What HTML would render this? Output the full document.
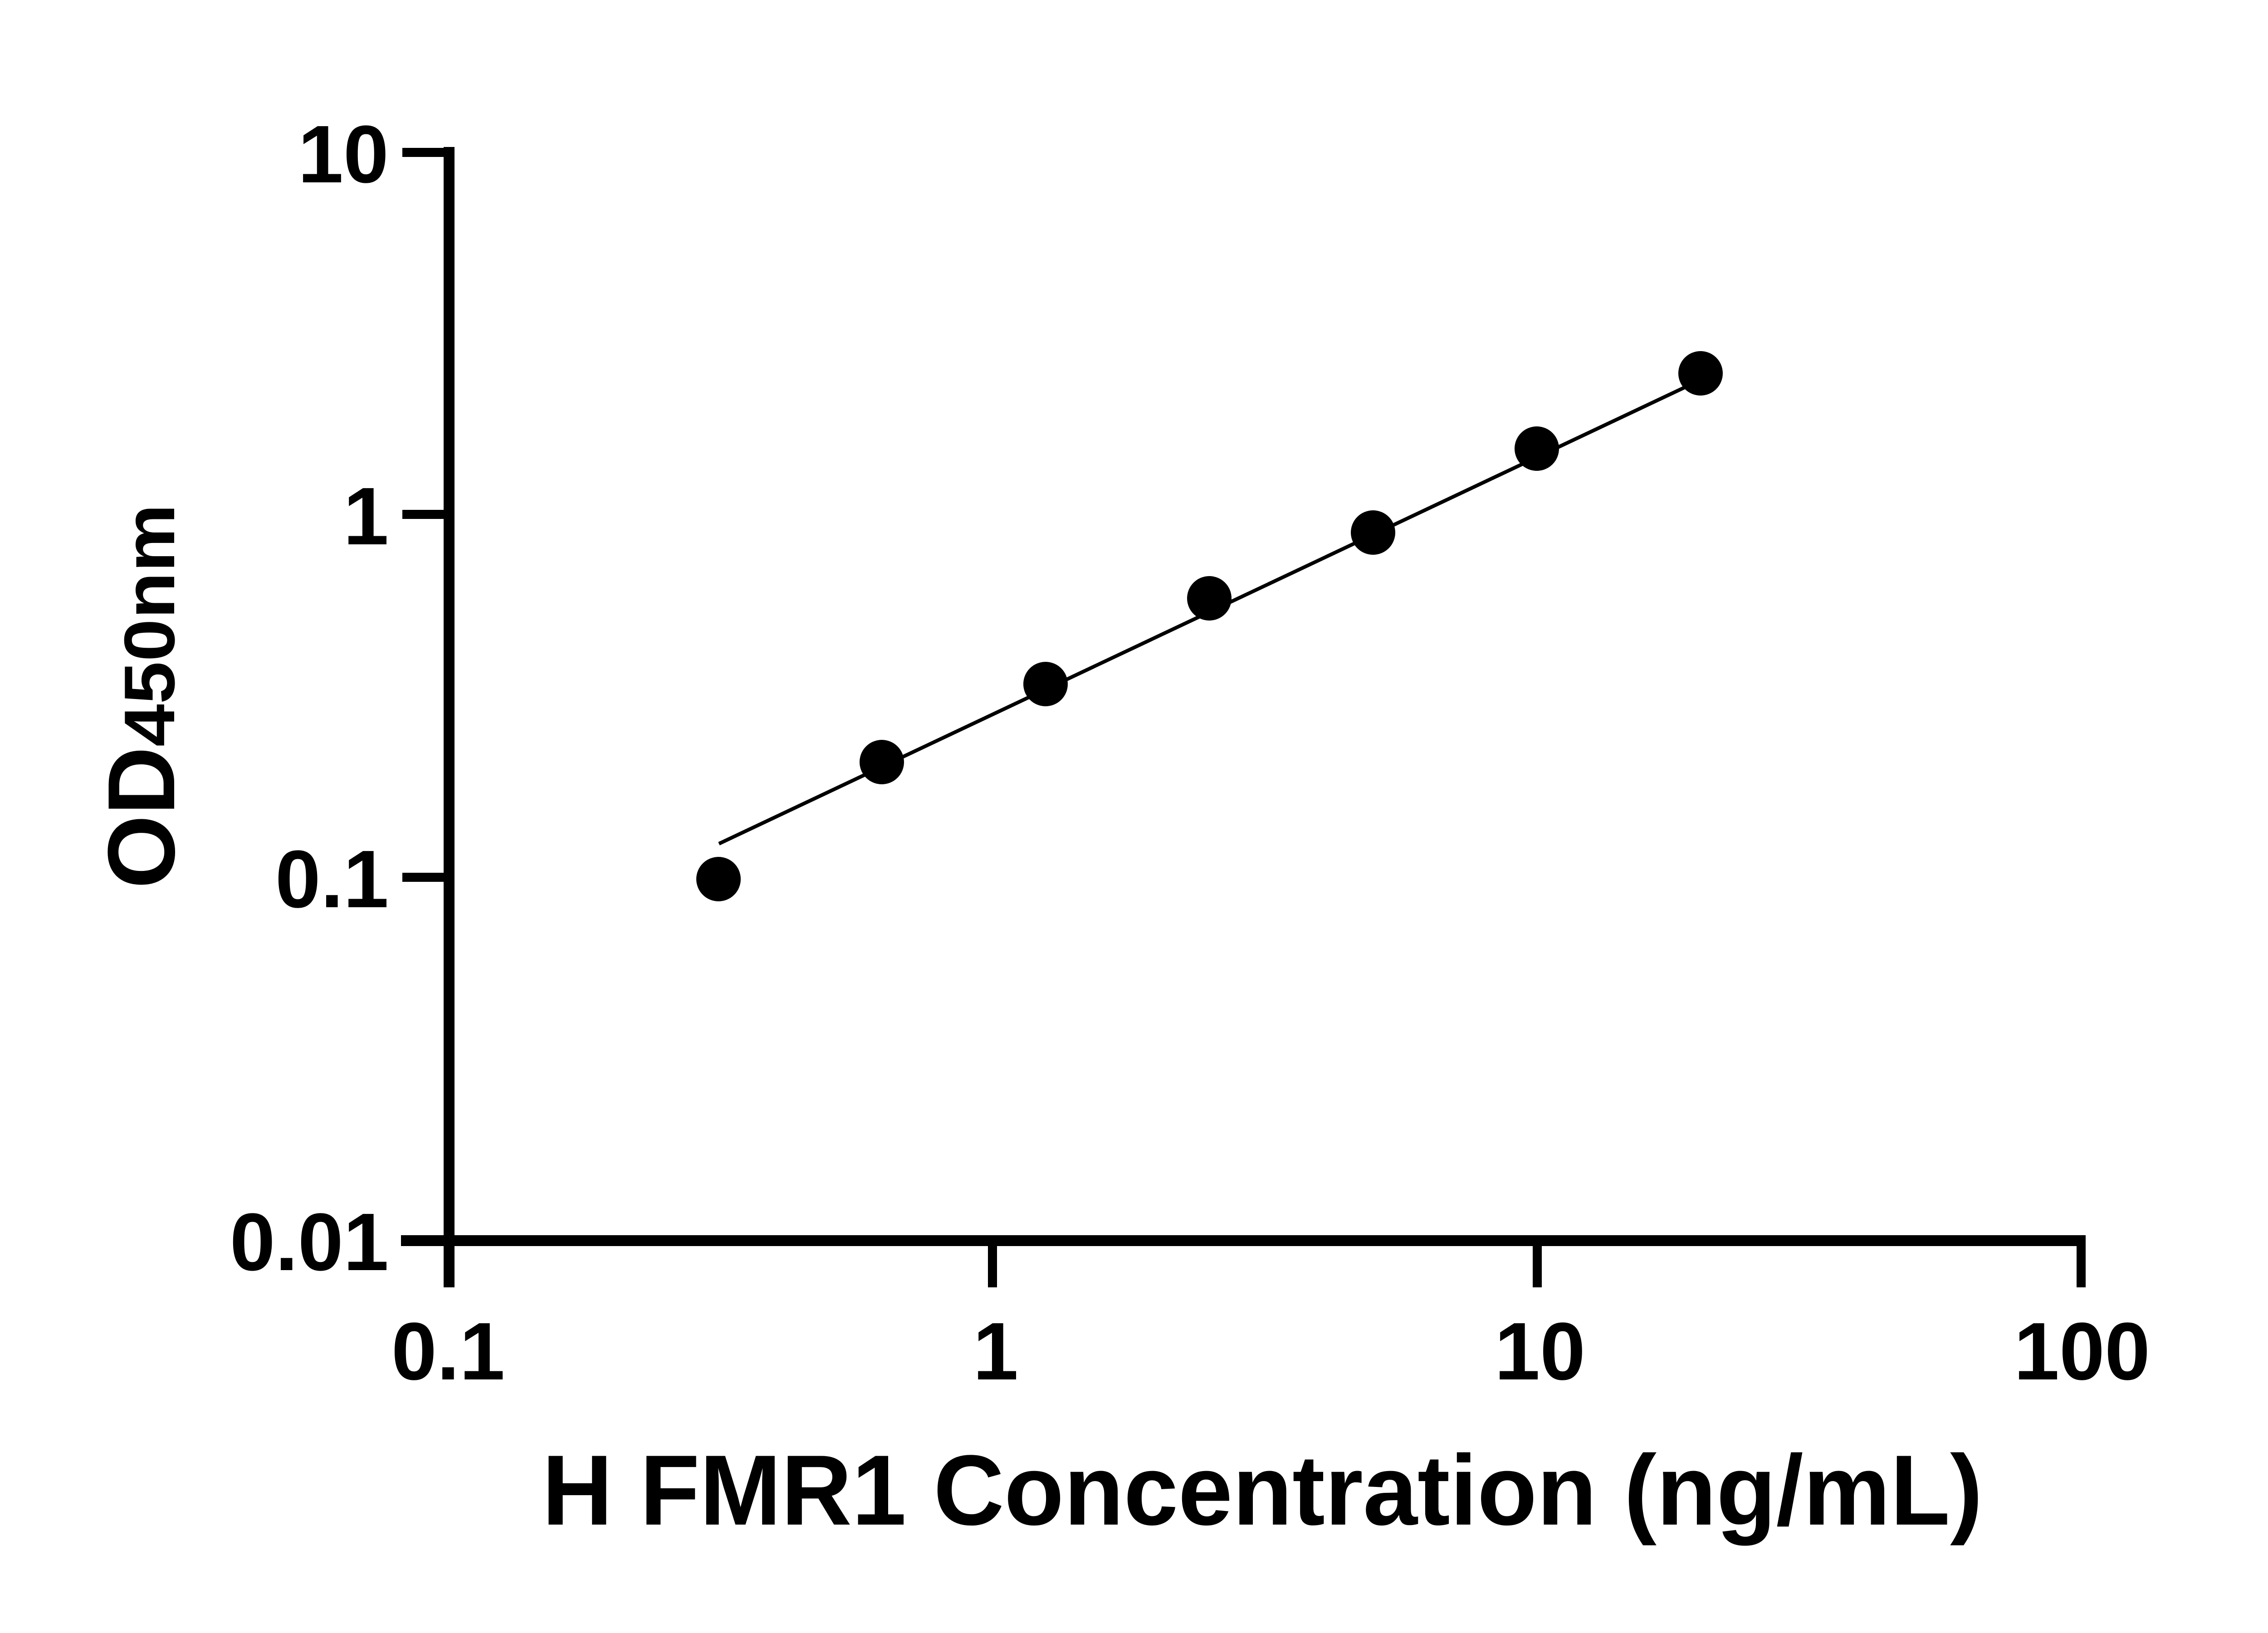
<!DOCTYPE html>
<html><head><meta charset="utf-8"><style>html,body{margin:0;padding:0;background:#fff}svg{display:block}</style></head>
<body>
<svg width="5142" height="3600" viewBox="0 0 5142 3600" xmlns="http://www.w3.org/2000/svg">
<rect width="5142" height="3600" fill="#fff"/>
<g stroke="#000" fill="none">
<line x1="990" y1="324" x2="990" y2="2838" stroke-width="24"/>
<line x1="884" y1="2735" x2="4598" y2="2735" stroke-width="24"/>
<g stroke-width="20">
<line x1="887" y1="336" x2="990" y2="336"/>
<line x1="887" y1="1134" x2="990" y2="1134"/>
<line x1="887" y1="1934" x2="990" y2="1934"/>
<line x1="2188" y1="2735" x2="2188" y2="2838"/>
<line x1="3389" y1="2735" x2="3389" y2="2838"/>
<line x1="4588" y1="2735" x2="4588" y2="2838"/>
</g>
<line x1="1585" y1="1860" x2="3750" y2="837" stroke-width="8"/>
</g>
<g fill="#000">
<circle cx="1584" cy="1938" r="49"/>
<circle cx="1944" cy="1680" r="49"/>
<circle cx="2305" cy="1508" r="49"/>
<circle cx="2666" cy="1319" r="49"/>
<circle cx="3027" cy="1174" r="49"/>
<circle cx="3388" cy="989" r="49"/>
<circle cx="3749" cy="823" r="49"/>
</g>
<g font-family="Liberation Sans, sans-serif" font-weight="bold" font-size="180" fill="#000">
<text x="857" y="402" text-anchor="end">10</text>
<text x="857" y="1200" text-anchor="end">1</text>
<text x="857" y="2000" text-anchor="end">0.1</text>
<text x="857" y="2800" text-anchor="end">0.01</text>
<text x="988" y="3041" text-anchor="middle">0.1</text>
<text x="2195" y="3041" text-anchor="middle">1</text>
<text x="3395" y="3041" text-anchor="middle">10</text>
<text x="4590" y="3041" text-anchor="middle">100</text>
<text x="1195" y="3361" font-size="220" textLength="3176" lengthAdjust="spacingAndGlyphs">H FMR1 Concentration (ng/mL)</text>
<g transform="translate(384,1959) rotate(-90)">
<text x="0" y="0" font-size="210" textLength="313" lengthAdjust="spacingAndGlyphs">OD</text>
<text x="313" y="0" font-size="158" textLength="535" lengthAdjust="spacingAndGlyphs">450nm</text>
</g>
</g>
</svg>
</body></html>
